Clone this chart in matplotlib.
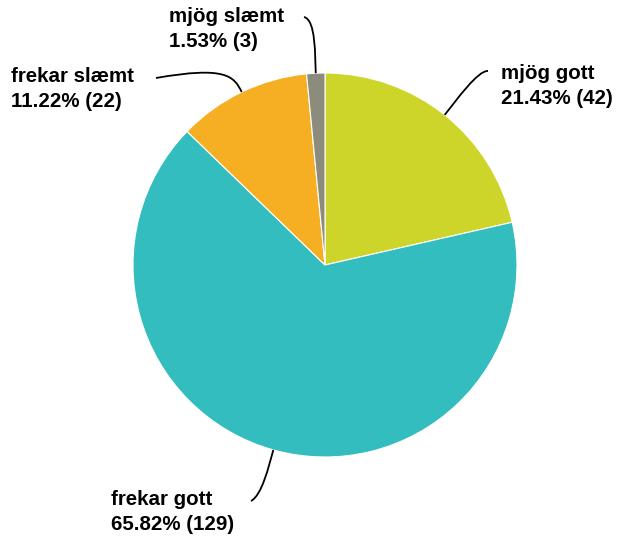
import numpy as np
import matplotlib
matplotlib.use("Agg")
import matplotlib.pyplot as plt
from matplotlib.path import Path
from matplotlib.patches import PathPatch

labels = ["mjög gott", "frekar gott", "frekar slæmt", "mjög slæmt"]
counts = [42, 129, 22, 3]
colors = ["#CED52A", "#33BDBE", "#F6AE22", "#8C8C7C"]

W, H = 618, 539
cx, cy, r = 325, 265, 192

# label anchor (top-left of text block) and connector end, in pixel coords (y down)
label_pos = [(501, 64), (111, 490), (11, 67), (169, 7)]
line_end = [(488, 71), (251, 501), (156, 78), (304, 17)]
bend = [(478, 70), (262, 495), (225, 66), (316, 20)]

plt.rcParams['font.family'] = ['Liberation Sans', 'DejaVu Sans']

fig = plt.figure(figsize=(W / 100, H / 100), dpi=100)
ax = fig.add_axes([0, 0, 1, 1])

wedges, _ = ax.pie(counts, colors=colors, startangle=90, counterclock=False,
                   center=(cx, H - cy), radius=r,
                   wedgeprops=dict(edgecolor="white", linewidth=0.8))
ax.set_xlim(0, W)
ax.set_ylim(0, H)
ax.set_aspect("equal")
ax.axis("off")

total = sum(counts)
for i, w in enumerate(wedges):
    ang = np.deg2rad((w.theta1 + w.theta2) / 2)
    ex, ey = cx + r * np.cos(ang), (H - cy) + r * np.sin(ang)
    ox, oy = ex + 18 * np.cos(ang), ey + 18 * np.sin(ang)
    bx, by = bend[i][0], H - bend[i][1]
    lx, ly = line_end[i][0], H - line_end[i][1]
    path = Path([(ex, ey), (ox, oy), (bx, by), (lx, ly)],
                [Path.MOVETO, Path.CURVE4, Path.CURVE4, Path.CURVE4])
    ax.add_patch(PathPatch(path, facecolor="none", edgecolor="black", lw=1.3))
    pct = counts[i] / total * 100
    tx, ty = label_pos[i]
    ax.text(tx, H - ty, f"{labels[i]}\n{pct:.2f}% ({counts[i]})",
            ha="left", va="top", fontsize=14.8, fontweight="bold",
            linespacing=1.4, color="black")

fig.savefig("out.png", dpi=100, facecolor="white")
